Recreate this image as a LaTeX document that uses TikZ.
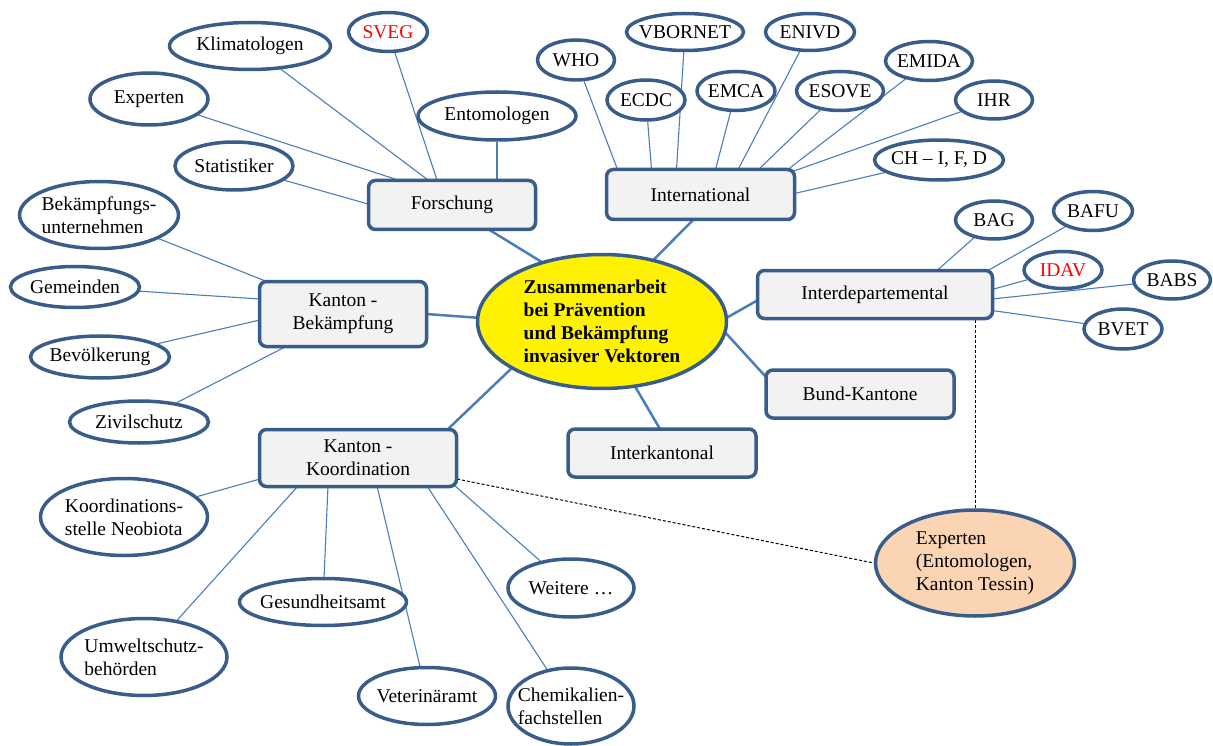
\documentclass[tikz,border=0pt]{standalone}
\usepackage{fontspec}
\setmainfont{Liberation Serif}
\usepackage{tikz}
\usetikzlibrary{shapes.geometric,backgrounds}
\definecolor{outl}{HTML}{385D8A}
\definecolor{wire}{HTML}{4A7EBB}
\definecolor{hubfill}{HTML}{F2F2F2}
\definecolor{peach}{HTML}{FBD4B4}

\begin{document}
\begin{tikzpicture}[x=1pt,y=-1pt,
every node/.style={font=\fontsize{19.5}{23}\selectfont},
hub/.style={rectangle,rounded corners=7,draw=outl,line width=3.5,fill=hubfill,align=center},
leaf/.style 2 args={ellipse,draw=outl,line width=3.5,fill=white,inner sep=-10pt,align=left,minimum width=#1,minimum height=#2},
twig/.style={draw=wire,line width=1.1},
spoke/.style={draw=wire,line width=2.5},
hint/.style={draw=black,densely dashed,line width=1}]
\useasboundingbox (0,0) rectangle (1213,746);

\node (vc) at (602,321.5) [leaf={249}{134},fill=yellow,font=\fontsize{19.5}{23}\selectfont\bfseries] {Zusammenarbeit\\bei Prävention\\und Bekämpfung\\invasiver Vektoren};

\node (vfor) at (452,205) [hub,minimum width=167,minimum height=49] {Forschung};
\node (vint) at (700.5,194.5) [hub,minimum width=188,minimum height=50] {International};
\node (vkb) at (343,314) [hub,minimum width=167,minimum height=65] {Kanton -\\Bekämpfung};
\node (vid) at (875,294.5) [hub,minimum width=235,minimum height=48] {Interdepartemental};
\node (vbk) at (860,394) [hub,minimum width=188,minimum height=48] {Bund-Kantone};
\node (vik) at (662,453) [hub,minimum width=188,minimum height=48] {Interkantonal};
\node (vkk) at (358,458) [hub,minimum width=197,minimum height=57] {Kanton -\\Koordination};

\node (vfor1) at (250,46) [leaf={161}{47}] {Klimatologen};
\node (vfor2) at (388,32) [leaf={79}{39},text=red] {SVEG};
\node (vfor3) at (149,99) [leaf={118}{52}] {Experten};
\node (vfor4) at (497,116) [leaf={158}{48}] {Entomologen};
\node (vfor5) at (234,166) [leaf={118}{48}] {Statistiker};

\node (vint1) at (576,60) [leaf={77}{40}] {WHO};
\node (vint2) at (685,32) [leaf={117}{37}] {VBORNET};
\node (vint3) at (810,32) [leaf={89}{37}] {ENIVD};
\node (vint4) at (646,100) [leaf={78}{40}] {ECDC};
\node (vint5) at (736,91) [leaf={78}{39}] {EMCA};
\node (vint6) at (840,91) [leaf={87}{39}] {ESOVE};
\node (vint7) at (929,61) [leaf={87}{39}] {EMIDA};
\node (vint8) at (994,100) [leaf={77}{38}] {IHR};
\node (vint9) at (939,160) [leaf={129}{40}] {CH – I, F, D};

\node (vid1) at (994,220) [leaf={77}{38}] {BAG};
\node (vid2) at (1093,211) [leaf={79}{39}] {BAFU};
\node (vid3) at (1063,270) [leaf={78}{37},text=red] {IDAV};
\node (vid4) at (1172,280) [leaf={77}{38}] {BABS};
\node (vid5) at (1123,329) [leaf={78}{40}] {BVET};

\node (vkb1) at (99,215) [leaf={159}{67}] {Bekämpfungs-\\unternehmen};
\node (vkb2) at (75,287) [leaf={129}{41}] {Gemeinden};
\node (vkb3) at (100,357) [leaf={139}{42}] {Bevölkerung};
\node (vkb4) at (139,422) [leaf={139}{42}] {Zivilschutz};

\node (vkk1) at (124,517) [leaf={167}{77}] {Koordinations-\\stelle Neobiota};
\node (vkk2) at (144,657) [leaf={166}{77}] {Umweltschutz-\\behörden};
\node (vkk3) at (323,602) [leaf={167}{47}] {Gesundheitsamt};
\node (vkk4) at (427,696) [leaf={137}{57}] {Veterinäramt};
\node (vkk5) at (571,706) [leaf={126}{76}] {Chemikalien-\\fachstellen};
\node (vkk6) at (571,588) [leaf={126}{58}] {Weitere …};

\node (vexp) at (975,563) [leaf={199}{106},fill=peach] {Experten\\(Entomologen,\\Kanton Tessin)};

\begin{scope}[on background layer]
\draw[spoke] ([shift={(36,24)}]vfor.center) edge ([shift={(-53,-55)}]vc.center);
\draw[spoke] ([shift={(-7,25)}]vint.center) edge ([shift={(48,-58)}]vc.center);
\draw[spoke] ([shift={(-117,5.5)}]vid.center) edge ([shift={(112,3.5)}]vc.center);
\draw[spoke] ([shift={(-94,-17)}]vbk.center) edge ([shift={(100,-14.5)}]vc.center);
\draw[spoke] ([shift={(-2,-24)}]vik.center) edge ([shift={(31,61.5)}]vc.center);
\draw[spoke] ([shift={(89,-28)}]vkk.center) edge ([shift={(-88,44.5)}]vc.center);
\draw[spoke] ([shift={(83,0)}]vkb.center) edge ([shift={(-121,-3.5)}]vc.center);

\draw[twig] (vfor1) edge ([shift={(-24,-25)}]vfor.center);
\draw[twig] (vfor2) edge ([shift={(-15,-25)}]vfor.center);
\draw[twig] (vfor3) edge ([shift={(-54,-25)}]vfor.center);
\draw[twig] (vfor4) edge ([shift={(45,-25)}]vfor.center);
\draw[twig] (vfor5) edge ([shift={(-84,-1)}]vfor.center);

\draw[twig] (vint1) edge ([shift={(-83,-25)}]vint.center);
\draw[twig] (vint2) edge ([shift={(-24,-25)}]vint.center);
\draw[twig] (vint3) edge ([shift={(36,-22)}]vint.center);
\draw[twig] (vint4) edge ([shift={(-49,-25)}]vint.center);
\draw[twig] (vint5) edge ([shift={(15,-25)}]vint.center);
\draw[twig] (vint6) edge ([shift={(57,-24)}]vint.center);
\draw[twig] (vint7) edge ([shift={(86,-24)}]vint.center);
\draw[twig] (vint8) edge ([shift={(92,-23)}]vint.center);
\draw[twig] (vint9) edge ([shift={(94,-1)}]vint.center);

\draw[twig] (vid1) edge ([shift={(62,-24)}]vid.center);
\draw[twig] (vid2) edge ([shift={(113,-24)}]vid.center);
\draw[twig] (vid3) edge ([shift={(117,-5)}]vid.center);
\draw[twig] (vid4) edge ([shift={(117,4.5)}]vid.center);
\draw[twig] (vid5) edge ([shift={(117,16)}]vid.center);

\draw[twig] (vkb1) edge ([shift={(-75,-32)}]vkb.center);
\draw[twig] (vkb2) edge ([shift={(-83,-15)}]vkb.center);
\draw[twig] (vkb3) edge ([shift={(-83,6)}]vkb.center);
\draw[twig] (vkb4) edge ([shift={(-56,32)}]vkb.center);

\draw[twig] (vkk1) edge ([shift={(-98,21)}]vkk.center);
\draw[twig] (vkk2) edge ([shift={(-60,28)}]vkk.center);
\draw[twig] (vkk3) edge ([shift={(-30,28)}]vkk.center);
\draw[twig] (vkk4) edge ([shift={(19,28)}]vkk.center);
\draw[twig] (vkk5) edge ([shift={(69,28)}]vkk.center);
\draw[twig] (vkk6) edge ([shift={(96,27)}]vkk.center);

\draw[hint] ([shift={(99,21)}]vkk.center) edge (vexp.west);
\draw[hint] ([xshift=100]vid.south) edge (vexp.north);
\end{scope}

\end{tikzpicture}
\end{document}
